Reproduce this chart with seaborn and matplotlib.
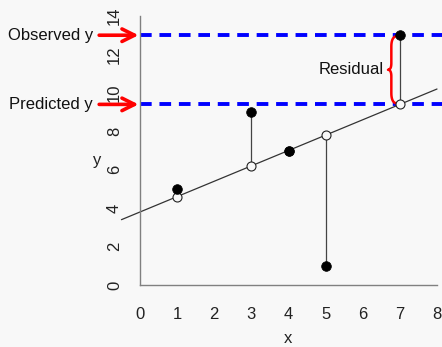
import numpy as np
import pandas as pd
import matplotlib
matplotlib.use("Agg")
import matplotlib.pyplot as plt
import seaborn as sns

# data
x_obs = [1, 3, 4, 5, 7]
y_obs = [5, 9, 7, 1, 13]
x_ticks = [0, 1, 2, 3, 4, 5, 6, 7, 8]
y_ticks = [0, 2, 4, 6, 8, 10, 12, 14]
highlight_x = 7

# least squares fit
slope, intercept = np.polyfit(x_obs, y_obs, 1)
y_pred = [intercept + slope * v for v in x_obs]
df = pd.DataFrame({"x": x_obs, "y": y_obs, "pred": y_pred})

sns.set_style("white")
plt.rcParams['font.family'] = ['Liberation Sans', 'DejaVu Sans']

bg = '#f8f8f8'
fig = plt.figure(figsize=(4.42, 3.47), dpi=100, facecolor=bg)
ax = fig.add_axes([140 / 442, 62 / 347, 297 / 442, 269 / 347])
ax.set_facecolor(bg)
ax.set_xlim(0, 8)
ax.set_ylim(0, 14)

for s in ['top', 'right']:
    ax.spines[s].set_visible(False)
for s in ['left', 'bottom']:
    ax.spines[s].set_color('#808080')
    ax.spines[s].set_linewidth(1.0)

ax.set_xticks(x_ticks)
ax.set_yticks(y_ticks)
ax.tick_params(axis='both', direction='out', length=7, width=1, color='#808080',
               labelsize=12, labelcolor='#222222')
ax.tick_params(axis='x', pad=9)
ax.tick_params(axis='y', pad=6)
for lab in ax.get_yticklabels():
    lab.set_rotation(90)
    lab.set_va('center')

# fitted line, running a bit past the axes
xl = np.array([-0.5, 8.0])
sns.lineplot(x=xl, y=intercept + slope * xl, color='#333333', lw=0.9, ax=ax,
             clip_on=False)

# residual segments
for xi, yo, yp in zip(df.x, df.y, df.pred):
    ax.plot([xi, xi], [yo, yp], color='#444444', lw=0.9, zorder=2)

# predicted (open) and observed (filled) points
sns.scatterplot(data=df, x="x", y="pred", s=42, facecolor=bg, edgecolor='#222222',
                linewidth=0.8, ax=ax, zorder=3, clip_on=False)
sns.scatterplot(data=df, x="x", y="y", s=48, color='black', edgecolor='black',
                ax=ax, zorder=4, clip_on=False)

# horizontal reference lines for the highlighted point
i_hl = x_obs.index(highlight_x)
y_hi = y_obs[i_hl]
y_lo = y_pred[i_hl]
for yy in [y_hi, y_lo]:
    ax.plot([0, 8.2], [yy, yy], color='#0000ff', lw=2.8, ls=(0, (3, 2)),
            clip_on=False, zorder=1)
    ax.annotate('', xy=(-0.04, yy), xytext=(-1.1, yy),
                arrowprops=dict(arrowstyle='->,head_length=0.9,head_width=0.45',
                                color='#ff0000', lw=2.6, shrinkA=0, shrinkB=0),
                annotation_clip=False)

ax.text(-1.27, y_hi, 'Observed y', ha='right', va='center', fontsize=12,
        color='#111111', clip_on=False)
ax.text(-1.27, y_lo, 'Predicted y', ha='right', va='center', fontsize=12,
        color='#111111', clip_on=False)

# curly brace between predicted and observed
mid = (y_hi + y_lo) / 2
xe, xs, xt = highlight_x - 0.07, highlight_x - 0.23, highlight_x - 0.32
ts = np.linspace(0, 1, 20)


def q(p0, p1, p2):
    return [((1 - t) ** 2 * p0[0] + 2 * (1 - t) * t * p1[0] + t ** 2 * p2[0],
             (1 - t) ** 2 * p0[1] + 2 * (1 - t) * t * p1[1] + t ** 2 * p2[1]) for t in ts]


pts = []
pts += q((xe, y_hi - 0.05), (xs, y_hi - 0.05), (xs, y_hi - 0.6))
pts += q((xs, mid + 0.35), (xs, mid), (xt, mid))
pts += q((xt, mid), (xs, mid), (xs, mid - 0.35))
pts += q((xs, y_lo + 0.6), (xs, y_lo + 0.05), (xe, y_lo + 0.05))
pts = np.array(pts)
ax.plot(pts[:, 0], pts[:, 1], color='#ff0000', lw=1.8, zorder=2)

ax.text(xt - 0.12, mid, 'Residual', ha='right', va='center', fontsize=12,
        color='#111111')

ax.set_xlabel('x', fontsize=12, color='#222222', labelpad=6)
ax.set_ylabel('')
ax.text(-1.16, 6.5, 'y', ha='center', va='center', fontsize=12,
        color='#222222', clip_on=False)

fig.savefig('out.png', dpi=100, facecolor=bg)
